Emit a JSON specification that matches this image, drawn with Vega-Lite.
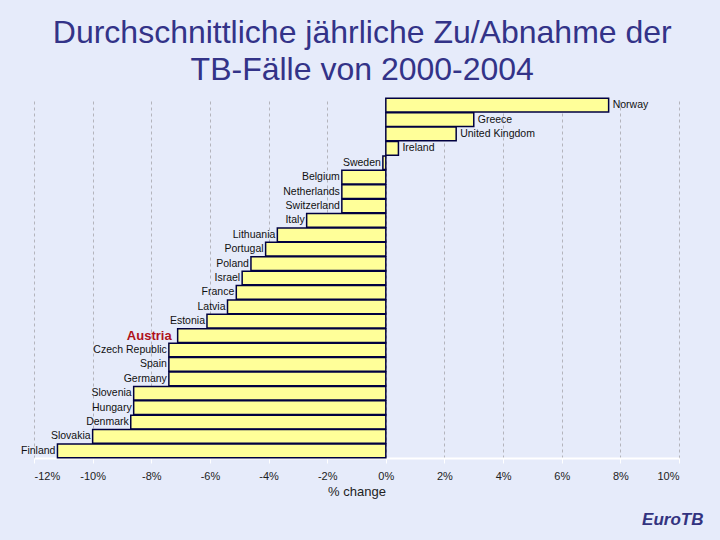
{
  "$schema": "https://vega.github.io/schema/vega-lite/v6.json",
  "background": "#e6ebfa",
  "padding": {"left": 21, "top": 16, "right": 18, "bottom": 12},
  "title": {
    "text": ["Durchschnittliche jährliche Zu/Abnahme der", "TB-Fälle von 2000-2004"],
    "font": "Liberation Sans",
    "fontSize": 32,
    "fontWeight": "normal",
    "color": "#333388",
    "lineHeight": 37,
    "anchor": "middle",
    "offset": 11
  },
  "data": {
    "values": [
      {"country": "Norway", "change": 7.6},
      {"country": "Greece", "change": 3.0},
      {"country": "United Kingdom", "change": 2.4},
      {"country": "Ireland", "change": 0.43},
      {"country": "Sweden", "change": -0.1},
      {"country": "Belgium", "change": -1.5},
      {"country": "Netherlands", "change": -1.5},
      {"country": "Switzerland", "change": -1.5},
      {"country": "Italy", "change": -2.7},
      {"country": "Lithuania", "change": -3.7},
      {"country": "Portugal", "change": -4.1},
      {"country": "Poland", "change": -4.6},
      {"country": "Israel", "change": -4.9},
      {"country": "France", "change": -5.1},
      {"country": "Latvia", "change": -5.4},
      {"country": "Estonia", "change": -6.1},
      {"country": "Austria", "change": -7.1},
      {"country": "Czech Republic", "change": -7.4},
      {"country": "Spain", "change": -7.4},
      {"country": "Germany", "change": -7.4},
      {"country": "Slovenia", "change": -8.6},
      {"country": "Hungary", "change": -8.6},
      {"country": "Denmark", "change": -8.7},
      {"country": "Slovakia", "change": -10.0},
      {"country": "Finland", "change": -11.2}
    ]
  },
  "vconcat": [
    {
      "width": 645,
      "height": 360,
      "title": {
        "text": "EuroTB",
        "orient": "bottom",
        "anchor": "end",
        "font": "Liberation Sans",
        "fontSize": 17,
        "fontStyle": "italic",
        "fontWeight": "bold",
        "color": "#333380",
        "offset": 14,
        "dx": 24
      },
      "encoding": {
        "y": {
          "field": "country",
          "type": "nominal",
          "sort": null,
          "axis": null,
          "scale": {"paddingInner": 0.05, "paddingOuter": 0.02}
        }
      },
      "layer": [
        {
          "mark": {"type": "bar", "fill": "#ffff99", "stroke": "#000040", "strokeWidth": 1.5},
          "encoding": {
            "x": {
              "field": "change",
              "type": "quantitative",
              "scale": {"domain": [-12, 10], "nice": false, "zero": false},
              "axis": {
                "values": [-12, -10, -8, -6, -4, -2, 0, 2, 4, 6, 8, 10],
                "labelExpr": "datum.value + '%'",
                "grid": true,
                "gridColor": "#b4b4bc",
                "gridDash": [3, 3],
                "gridWidth": 1,
                "domainColor": "#ffffff",
                "domainWidth": 2,
                "tickColor": "#ffffff",
                "tickSize": 5,
                "labelFont": "Liberation Sans",
                "labelFontSize": 11,
                "labelColor": "#222222",
                "labelPadding": 7,
                "title": "% change",
                "titleFont": "Liberation Sans",
                "titleFontSize": 13,
                "titleFontWeight": "normal",
                "titleColor": "#222222",
                "titlePadding": 4
              }
            }
          }
        },
        {
          "transform": [{"filter": "datum.change < 0 && datum.country !== 'Austria'"}],
          "mark": {"type": "text", "align": "right", "baseline": "middle", "dx": -2, "font": "Liberation Sans", "fontSize": 10.5, "color": "#111111"},
          "encoding": {
            "x": {"field": "change", "type": "quantitative"},
            "text": {"field": "country"}
          }
        },
        {
          "transform": [{"filter": "datum.change >= 0"}],
          "mark": {"type": "text", "align": "left", "baseline": "middle", "dx": 4, "font": "Liberation Sans", "fontSize": 10.5, "color": "#111111"},
          "encoding": {
            "x": {"field": "change", "type": "quantitative"},
            "text": {"field": "country"}
          }
        },
        {
          "transform": [{"filter": "datum.country === 'Austria'"}],
          "mark": {"type": "text", "align": "right", "baseline": "middle", "dx": -6, "font": "Liberation Sans", "fontSize": 13, "fontWeight": "bold", "color": "#b0101a"},
          "encoding": {
            "x": {"field": "change", "type": "quantitative"},
            "text": {"field": "country"}
          }
        }
      ]
    }
  ],
  "config": {"view": {"stroke": null}}
}
